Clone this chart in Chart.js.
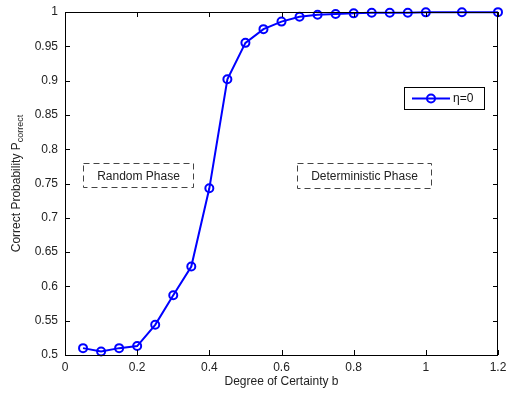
<!DOCTYPE html>
<html>
<head>
<meta charset="utf-8">
<script src="https://cdn.jsdelivr.net/npm/chart.js@4.4.1/dist/chart.umd.min.js"></script>
<style>
  html, body { margin: 0; padding: 0; background: #fff; }
  #wrap { width: 508px; height: 395px; }
</style>
</head>
<body>
<div id="wrap"><canvas id="c" width="508" height="395"></canvas></div>
<script>
// data
const bValues = [0.05, 0.1, 0.15, 0.2, 0.25, 0.3, 0.35, 0.4, 0.45, 0.5, 0.55, 0.6, 0.65, 0.7, 0.75, 0.8, 0.85, 0.9, 0.95, 1.0, 1.1, 1.2];
const pCorrect = [0.510, 0.505, 0.510, 0.513, 0.544, 0.587, 0.629, 0.743, 0.902, 0.955, 0.975, 0.986, 0.993, 0.996, 0.997, 0.998, 0.999, 0.999, 0.999, 0.9995, 0.9997, 0.9998];
const xTicks = [0, 0.2, 0.4, 0.6, 0.8, 1, 1.2];
const yTicks = [0.5, 0.55, 0.6, 0.65, 0.7, 0.75, 0.8, 0.85, 0.9, 0.95, 1];
const seriesLabel = 'η=0';
const phaseLabels = [
    { text: 'Random Phase', x0: 0.05, x1: 0.355, y0: 0.745, y1: 0.78 },
    { text: 'Deterministic Phase', x0: 0.642, x1: 1.015, y0: 0.743, y1: 0.78 }
];

const FONT = '"Liberation Sans", Arial, sans-serif';
const BLUE = '#0000ff';

const matlabAxes = {
    id: 'matlabAxes',
    afterDraw(chart) {
        const { ctx, chartArea: a, scales: { x, y } } = chart;
        ctx.save();
        ctx.strokeStyle = '#000';
        ctx.lineWidth = 1;
        ctx.strokeRect(a.left + 0.5, a.top + 0.5, a.right - a.left - 1, a.bottom - a.top);

        // inward ticks on all four sides
        ctx.beginPath();
        xTicks.forEach(v => {
            const px = Math.round(x.getPixelForValue(v)) + 0.5;
            ctx.moveTo(px, a.bottom); ctx.lineTo(px, a.bottom - 5);
            ctx.moveTo(px, a.top); ctx.lineTo(px, a.top + 5);
        });
        yTicks.forEach(v => {
            const py = Math.round(y.getPixelForValue(v)) + 0.5;
            ctx.moveTo(a.left, py); ctx.lineTo(a.left + 5, py);
            ctx.moveTo(a.right, py); ctx.lineTo(a.right - 5, py);
        });
        ctx.stroke();

        // dashed phase boxes
        ctx.font = '12px ' + FONT;
        ctx.textAlign = 'center';
        ctx.textBaseline = 'middle';
        phaseLabels.forEach(p => {
            const l = Math.round(x.getPixelForValue(p.x0)) + 0.5;
            const r = Math.round(x.getPixelForValue(p.x1)) + 0.5;
            const t = Math.round(y.getPixelForValue(p.y1)) + 0.5;
            const b = Math.round(y.getPixelForValue(p.y0)) + 0.5;
            ctx.setLineDash([6, 4]);
            ctx.strokeStyle = '#444';
            ctx.strokeRect(l, t, r - l, b - t);
            ctx.setLineDash([]);
            ctx.fillStyle = '#222';
            ctx.fillText(p.text, (l + r) / 2, (t + b) / 2 + 1);
        });

        // legend box
        const lx = 404, ly = 87, lw = 80, lh = 22;
        ctx.fillStyle = '#fff';
        ctx.fillRect(lx, ly, lw, lh);
        ctx.strokeStyle = '#000';
        ctx.strokeRect(lx + 0.5, ly + 0.5, lw, lh);
        ctx.strokeStyle = BLUE;
        ctx.lineWidth = 2;
        ctx.beginPath();
        ctx.moveTo(lx + 8, ly + 11.5); ctx.lineTo(lx + 46, ly + 11.5);
        ctx.stroke();
        ctx.beginPath();
        ctx.arc(lx + 27, ly + 11.5, 4, 0, Math.PI * 2);
        ctx.stroke();
        ctx.fillStyle = '#111';
        ctx.textAlign = 'left';
        ctx.font = '12px ' + FONT;
        ctx.fillText(seriesLabel, lx + 49, ly + 12);

        // y-axis title with subscript
        ctx.save();
        ctx.translate(16, (a.top + a.bottom) / 2);
        ctx.rotate(-Math.PI / 2);
        ctx.fillStyle = '#222';
        ctx.textBaseline = 'alphabetic';
        const main = 'Correct Probability P';
        const sub = 'correct';
        ctx.font = '12px ' + FONT;
        const w1 = ctx.measureText(main).width;
        ctx.font = '9px ' + FONT;
        const w2 = ctx.measureText(sub).width;
        const start = -(w1 + w2) / 2;
        ctx.font = '12px ' + FONT;
        ctx.textAlign = 'left';
        ctx.fillText(main, start, 4);
        ctx.font = '9px ' + FONT;
        ctx.fillText(sub, start + w1, 7);
        ctx.restore();

        ctx.restore();
    }
};

new Chart(document.getElementById('c').getContext('2d'), {
    type: 'line',
    data: {
        datasets: [{
            label: seriesLabel,
            data: bValues.map((b, i) => ({ x: b, y: pCorrect[i] })),
            borderColor: BLUE,
            backgroundColor: 'rgba(0,0,0,0)',
            borderWidth: 2,
            pointRadius: 4,
            pointBorderWidth: 2,
            pointBorderColor: BLUE,
            pointBackgroundColor: 'rgba(0,0,0,0)',
            tension: 0,
            clip: false
        }]
    },
    options: {
        responsive: false,
        animation: false,
        events: [],
        layout: { padding: { top: 12, right: 10, left: 0, bottom: 0 } },
        plugins: {
            legend: { display: false },
            tooltip: { enabled: false }
        },
        scales: {
            x: {
                type: 'linear',
                min: 0,
                max: 1.2,
                afterBuildTicks: s => { s.ticks = xTicks.map(v => ({ value: v })); },
                afterFit: s => { s.height = 40; s.paddingLeft = 0; s.paddingRight = 0; },
                grid: { display: false, drawTicks: false },
                border: { display: false },
                ticks: {
                    color: '#222',
                    font: { family: FONT, size: 12 },
                    padding: 5,
                    maxRotation: 0,
                    callback: v => String(v)
                },
                title: {
                    display: true,
                    text: 'Degree of Certainty b',
                    color: '#222',
                    font: { family: FONT, size: 12 },
                    padding: { top: 0, bottom: 6 }
                }
            },
            y: {
                type: 'linear',
                min: 0.5,
                max: 1,
                afterBuildTicks: s => { s.ticks = yTicks.map(v => ({ value: v })); },
                afterFit: s => { s.width = 65; s.paddingTop = 0; s.paddingBottom = 0; },
                grid: { display: false, drawTicks: false },
                border: { display: false },
                ticks: {
                    color: '#222',
                    font: { family: FONT, size: 12 },
                    padding: 7,
                    callback: v => String(Math.round(v * 100) / 100)
                }
            }
        }
    },
    plugins: [matlabAxes]
});
</script>
</body>
</html>
